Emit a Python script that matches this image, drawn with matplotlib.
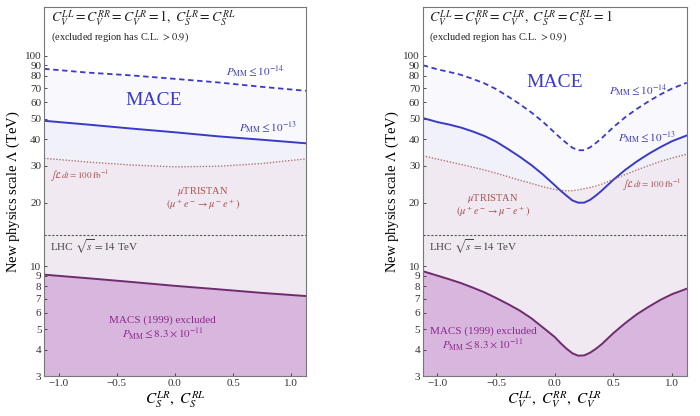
import numpy as np
import matplotlib
matplotlib.use("Agg")
import matplotlib.pyplot as plt

plt.rcParams['font.family'] = ['Liberation Serif', 'DejaVu Serif']
plt.rcParams['mathtext.fontset'] = 'stix'

# left panel: vs C_S^LR, C_S^RL
x_left = [-1.125, -0.75, -0.375, 0.0, 0.375, 0.75, 1.125]
mace14_left = [86.5, 83.0, 80.5, 77.5, 74.5, 71.0, 68.0]
mace13_left = [49.0, 47.0, 45.0, 43.2, 41.3, 39.8, 38.3]
tristan_left = [32.5, 31.2, 30.2, 29.6, 29.8, 30.7, 32.3]
macs_left = [9.1, 8.75, 8.4, 8.05, 7.75, 7.45, 7.2]

# right panel: vs C_V^LL, C_V^RR, C_V^LR
x_right = [-1.125, -1.0, -0.9, -0.8, -0.7, -0.6, -0.5, -0.4, -0.3, -0.2,
           -0.1, 0.0, 0.05, 0.1, 0.15, 0.2, 0.25, 0.3, 0.35, 0.4,
           0.5, 0.6, 0.7, 0.8, 0.9, 1.0, 1.125]
mace14_right = [90.0, 86.0, 83.6, 81.0, 77.5, 73.8, 69.3, 64.0, 58.9, 53.7,
                48.4, 43.0, 40.5, 38.4, 36.5, 35.5, 35.5, 36.6, 38.4, 40.5,
                45.7, 50.9, 55.8, 60.6, 65.3, 69.7, 74.3]
mace13_right = [50.5, 48.3, 47.0, 45.5, 43.6, 41.5, 39.0, 36.0, 33.1, 30.2,
                27.2, 24.2, 22.8, 21.6, 20.5, 20.0, 20.0, 20.6, 21.6, 22.8,
                25.7, 28.6, 31.4, 34.1, 36.7, 39.2, 41.7]
tristan_right = [33.4, 32.2, 31.3, 30.4, 29.5, 28.6, 27.6, 26.6, 25.6, 24.7,
                 23.8, 23.1, 22.9, 22.8, 22.8, 23.0, 23.3, 23.6, 24.0, 24.5,
                 25.8, 27.2, 28.6, 30.0, 31.4, 32.6, 34.0]
macs_right = [9.45, 9.0, 8.65, 8.3, 7.9, 7.5, 7.05, 6.6, 6.15, 5.65,
              5.1, 4.6, 4.3, 4.05, 3.85, 3.75, 3.76, 3.87, 4.04, 4.25,
              4.8, 5.35, 5.9, 6.4, 6.9, 7.35, 7.8]

lhc = 14.0
yticks = [3, 4, 5, 6, 7, 8, 9, 10, 20, 30, 40, 50, 60, 70, 80, 90, 100]

blue = '#3a3ac8'
red = '#a85050'
purple = '#6e2c6e'
purple_txt = '#8c2a8c'

fig = plt.figure(figsize=(7, 4.16), dpi=100)
axL = fig.add_axes([0.063, 0.096, 0.374, 0.887])
axR = fig.add_axes([0.604, 0.096, 0.377, 0.887])


def draw(ax, x, m14, m13, tr, macs):
    lo = 3
    ax.fill_between(x, lo, m14, color='#f8f8fd', lw=0)
    ax.fill_between(x, lo, m13, color='#f1f1fa', lw=0)
    ax.fill_between(x, lo, tr, color='#f1e8ef', alpha=0.8, lw=0)
    ax.fill_between(x, lo, macs, color='#d8b6de', lw=0)
    ax.plot(x, m14, color=blue, lw=1.3, ls=(0, (3, 2)))
    ax.plot(x, m13, color=blue, lw=1.4)
    ax.plot(x, tr, color=red, lw=1.0, ls=(0, (1, 1.2)), alpha=0.8)
    ax.plot(x, macs, color=purple, lw=1.4)
    ax.axhline(lhc, color='#555555', lw=0.8, ls=(0, (2, 1.5)))
    ax.set_yscale('log')
    ax.set_xlim(-1.125, 1.125)
    ax.set_ylim(3, 170)
    ax.set_yticks(yticks)
    ax.set_yticklabels([str(t) for t in yticks])
    ax.minorticks_off()
    ax.set_xticks([-1.0, -0.5, 0.0, 0.5, 1.0])
    ax.set_xticklabels(['\u22121.0', '\u22120.5', '0.0', '0.5', '1.0'])
    ax.tick_params(direction='in', length=2.5, labelsize=8, pad=2,
                   colors='#333333', width=0.6)
    for s in ax.spines.values():
        s.set_color('#777777')
        s.set_linewidth(0.8)
    ax.set_ylabel(r'New physics scale $\Lambda$ (TeV)', fontsize=10.5,
                  labelpad=2)


draw(axL, x_left, mace14_left, mace13_left, tristan_left, macs_left)
draw(axR, x_right, mace14_right, mace13_right, tristan_right, macs_right)

# left panel text
axL.text(0.025, 0.968,
         r'$C_V^{LL}=C_V^{RR}=C_V^{LR}=1,\ C_S^{LR}=C_S^{RL}$',
         transform=axL.transAxes, fontsize=10, va='center', color='#222222')
axL.text(0.025, 0.917, r'(excluded region has C.L. $>0.9$)',
         transform=axL.transAxes, fontsize=7.5, va='center', color='#222222')
axL.text(-0.18, 61, 'MACE', color=blue, fontsize=14, ha='center', va='center')
axL.text(0.69, 84.5, r'$P_{\rm MM}\leq 10^{-14}$', color=blue, fontsize=8,
         ha='center', va='center')
axL.text(0.80, 45.8, r'$P_{\rm MM}\leq 10^{-13}$', color=blue, fontsize=8,
         ha='center', va='center')
axL.text(-1.07, 26.8, r'$\int\mathcal{L}\,dt=100\ {\rm fb}^{-1}$', color=red,
         fontsize=6.5, ha='left', va='center')
axL.text(0.24, 22.7, r'$\mu$TRISTAN', color=red, fontsize=7.5,
         ha='center', va='center')
axL.text(0.24, 19.6, r'$(\mu^+e^-\to\mu^-e^+)$', color=red, fontsize=7.5,
         ha='center', va='center')
axL.text(-1.07, 12.3, r'LHC $\sqrt{s}=14$ TeV', color='#444444', fontsize=8,
         ha='left', va='center')
axL.text(-0.105, 5.55, 'MACS (1999) excluded', color=purple_txt, fontsize=8,
         ha='center', va='center')
axL.text(-0.105, 4.75, r'$P_{\rm MM}\leq 8.3\times 10^{-11}$', color=purple_txt,
         fontsize=8, ha='center', va='center')
axL.set_xlabel(r'$C_S^{LR},\ C_S^{RL}$', fontsize=11, labelpad=1)

# right panel text
axR.text(0.025, 0.968,
         r'$C_V^{LL}=C_V^{RR}=C_V^{LR},\ C_S^{LR}=C_S^{RL}=1$',
         transform=axR.transAxes, fontsize=10, va='center', color='#222222')
axR.text(0.025, 0.917, r'(excluded region has C.L. $>0.9$)',
         transform=axR.transAxes, fontsize=7.5, va='center', color='#222222')
axR.text(0.0, 74.5, 'MACE', color=blue, fontsize=14, ha='center', va='center')
axR.text(0.71, 68.7, r'$P_{\rm MM}\leq 10^{-14}$', color=blue, fontsize=8,
         ha='center', va='center')
axR.text(0.79, 41.0, r'$P_{\rm MM}\leq 10^{-13}$', color=blue, fontsize=8,
         ha='center', va='center')
axR.text(0.83, 24.3, r'$\int\mathcal{L}\,dt=100\ {\rm fb}^{-1}$', color=red,
         fontsize=6.5, ha='center', va='center')
axR.text(-0.525, 20.9, r'$\mu$TRISTAN', color=red, fontsize=7.5,
         ha='center', va='center')
axR.text(-0.525, 18.1, r'$(\mu^+e^-\to\mu^-e^+)$', color=red, fontsize=7.5,
         ha='center', va='center')
axR.text(-1.07, 12.3, r'LHC $\sqrt{s}=14$ TeV', color='#444444', fontsize=8,
         ha='left', va='center')
axR.text(-0.61, 4.9, 'MACS (1999) excluded', color=purple_txt, fontsize=8,
         ha='center', va='center')
axR.text(-0.61, 4.22, r'$P_{\rm MM}\leq 8.3\times 10^{-11}$', color=purple_txt,
         fontsize=8, ha='center', va='center')
axR.set_xlabel(r'$C_V^{LL},\ C_V^{RR},\ C_V^{LR}$', fontsize=11, labelpad=1)

fig.savefig('out.png', dpi=100)
